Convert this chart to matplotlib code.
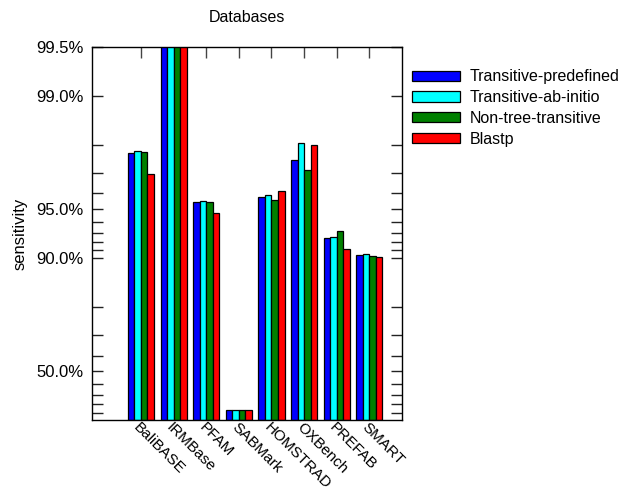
import numpy as np
import matplotlib
matplotlib.use("Agg")
import matplotlib.pyplot as plt
from matplotlib.ticker import FixedLocator, NullFormatter

plt.rcParams["font.family"] = ["Liberation Sans", "DejaVu Sans"]

databases = ["BaliBASE", "IRMBase", "PFAM", "SABMark",
             "HOMSTRAD", "OXBench", "PREFAB", "SMART"]

# sensitivity per database for each method
transitive_predefined = [0.9776, 1.0, 0.9545, 0.138, 0.9578, 0.9751, 0.9248, 0.9043]
transitive_ab_initio = [0.9780, 1.0, 0.9557, 0.138, 0.9590, 0.9805, 0.9256, 0.9056]
non_tree_transitive = [0.9778, 1.0, 0.9547, 0.138, 0.9563, 0.9714, 0.9314, 0.9025]
blastp = [0.9697, 1.0, 0.9471, 0.138, 0.9613, 0.9798, 0.9117, 0.9011]

series = [
    ("Transitive-predefined", transitive_predefined, "#0000ff"),
    ("Transitive-ab-initio", transitive_ab_initio, "#00ffff"),
    ("Non-tree-transitive", non_tree_transitive, "#008000"),
    ("Blastp", blastp, "#ff0000"),
]

major_ticks = [0.5, 0.9, 0.95, 0.99, 0.995]
major_labels = ["50.0%", "90.0%", "95.0%", "99.0%", "99.5%"]


def forward(p):
    # log scale on the error rate (1 - sensitivity)
    return -np.log(np.clip(1.0 - np.asarray(p, dtype=float), 1e-9, None))


def inverse(v):
    return 1.0 - np.exp(-np.asarray(v, dtype=float))


fig = plt.figure(figsize=(6.27, 4.96), dpi=100)
ax = fig.add_axes([0.1467, 0.1532, 0.4944, 0.752])

x = np.arange(len(databases))
width = 0.2
for i, (name, vals, color) in enumerate(series):
    ax.bar(x + (i - 1.5) * width, vals, width, color=color,
           edgecolor="black", linewidth=0.9, label=name)

ax.set_yscale("function", functions=(forward, inverse))
ax.set_ylim(0.0, 0.995)
ax.set_xlim(-1.5, 8.0)

minor_err = [e * d for d in (1.0, 0.1, 0.01) for e in (9, 8, 7, 6, 4, 3, 2)]
minor_err = [e for e in minor_err if 0.005 < e < 1.0]
ax.yaxis.set_major_locator(FixedLocator(major_ticks))
ax.yaxis.set_minor_locator(FixedLocator([1 - e for e in minor_err]))
ax.yaxis.set_minor_formatter(NullFormatter())
ax.set_yticklabels(major_labels, fontsize=12)

ax.set_xticks(x)
ax.set_xticklabels(databases, fontsize=11, rotation=-45, ha="left",
                   va="top", rotation_mode="anchor")
ax.tick_params(axis="x", which="both", direction="in", top=True,
               bottom=False, length=8, width=1, color="#444444", pad=0)
ax.tick_params(axis="y", which="both", direction="in", left=True,
               right=True, length=8, width=1, color="#222222", pad=6)
ax.set_axisbelow(True)

for spine in ax.spines.values():
    spine.set_linewidth(1.0)
    spine.set_color("black")

ax.set_title("Databases", fontsize=11.5, pad=18)
ax.set_ylabel("sensitivity", fontsize=12, labelpad=6)

ax.legend(loc="upper left", bbox_to_anchor=(1.012, 0.957), frameon=False,
          fontsize=11.5, handlelength=3.0, handleheight=0.6,
          handletextpad=0.6, labelspacing=0.36, borderaxespad=0)

fig.savefig("out.png", dpi=100)
